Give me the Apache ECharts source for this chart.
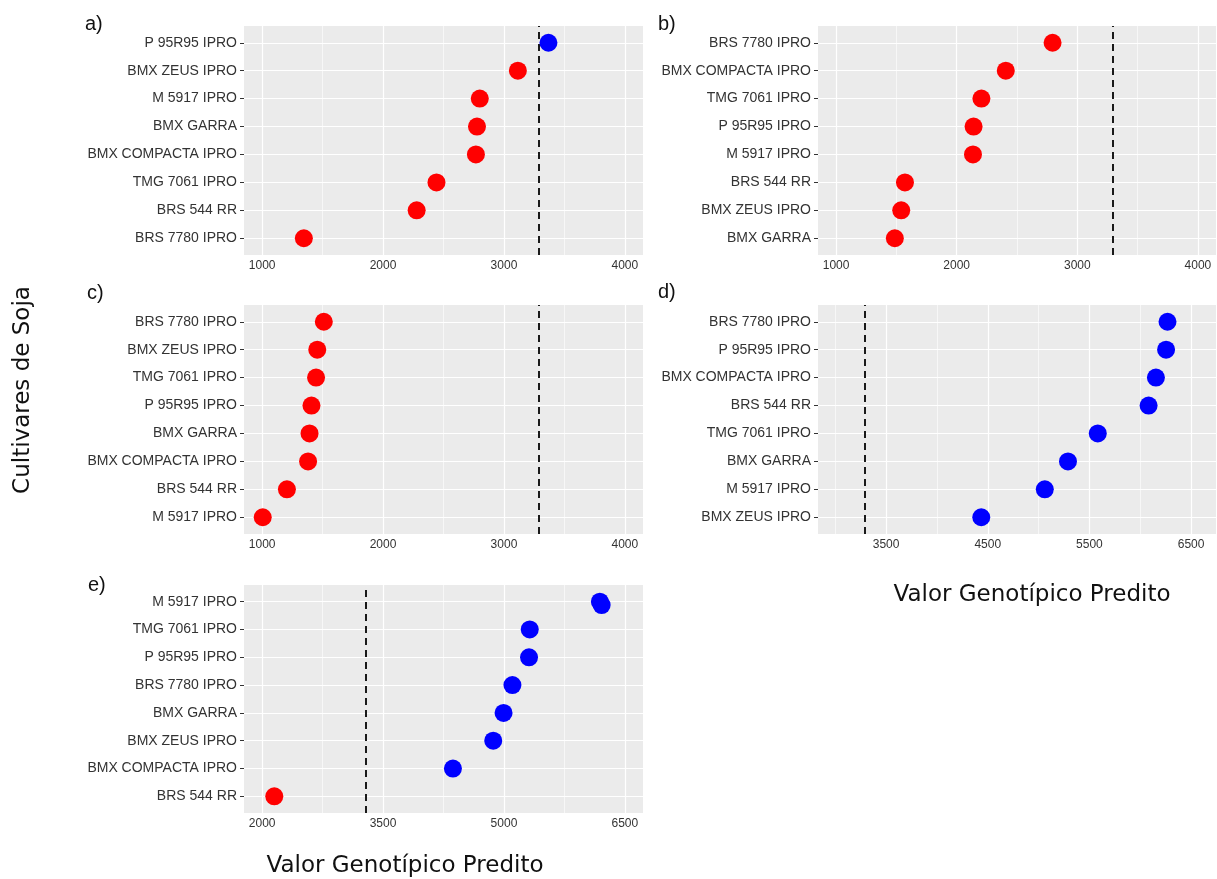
<!DOCTYPE html>
<html>
<head>
<meta charset="utf-8">
<script src="https://cdn.jsdelivr.net/npm/echarts@6/dist/echarts.min.js"></script>
<style>
  html, body { margin: 0; background: #fff; }
  #chart { width: 1217px; height: 879px; }
</style>
</head>
<body>
<div id="chart"></div>
<script>
// linha tracejada: media geral
var meanValue = 3290;

// categorias de baixo para cima, valores na mesma ordem
var catsA = ['BRS 7780 IPRO', 'BRS 544 RR', 'TMG 7061 IPRO', 'BMX COMPACTA IPRO', 'BMX GARRA', 'M 5917 IPRO', 'BMX ZEUS IPRO', 'P 95R95 IPRO'];
var valsA = [1345, 2278, 2442, 2768, 2777, 2800, 3115, 3368];

var catsB = ['BMX GARRA', 'BMX ZEUS IPRO', 'BRS 544 RR', 'M 5917 IPRO', 'P 95R95 IPRO', 'TMG 7061 IPRO', 'BMX COMPACTA IPRO', 'BRS 7780 IPRO'];
var valsB = [1487, 1540, 1571, 2135, 2140, 2205, 2407, 2795];

var catsC = ['M 5917 IPRO', 'BRS 544 RR', 'BMX COMPACTA IPRO', 'BMX GARRA', 'P 95R95 IPRO', 'TMG 7061 IPRO', 'BMX ZEUS IPRO', 'BRS 7780 IPRO'];
var valsC = [1005, 1205, 1380, 1392, 1408, 1446, 1456, 1510];

var catsD = ['BMX ZEUS IPRO', 'M 5917 IPRO', 'BMX GARRA', 'TMG 7061 IPRO', 'BRS 544 RR', 'BMX COMPACTA IPRO', 'P 95R95 IPRO', 'BRS 7780 IPRO'];
var valsD = [4436, 5061, 5289, 5582, 6082, 6154, 6254, 6268];

var catsE = ['BRS 544 RR', 'BMX COMPACTA IPRO', 'BMX ZEUS IPRO', 'BMX GARRA', 'BRS 7780 IPRO', 'P 95R95 IPRO', 'TMG 7061 IPRO', 'M 5917 IPRO'];
var valsE = [2151, 4367, 4867, 4995, 5105, 5311, 5320, 6190];
// ponto repetido do M 5917 IPRO no painel e)
var dupE = { name: 'M 5917 IPRO', value: 6212 };

// eixos x
var ticksABC = [1000, 2000, 3000, 4000], minorABC = [1500, 2500, 3500], rangeABC = [850, 4150];
var ticksD = [3500, 4500, 5500, 6500], minorD = [3000, 4000, 5000, 6000], rangeD = [2830, 6745];
var ticksE = [2000, 3500, 5000, 6500], minorE = [2750, 4250, 5750], rangeE = [1775, 6725];

var chart = echarts.init(document.getElementById('chart'));

var panels = [
  {tag: 'a)', cats: catsA, vals: valsA, ticks: ticksABC, minor: minorABC, range: rangeABC, box: [244, 26, 399, 229], tagAt: [85, 14]},
  {tag: 'b)', cats: catsB, vals: valsB, ticks: ticksABC, minor: minorABC, range: rangeABC, box: [818, 26, 398, 229], tagAt: [658, 14]},
  {tag: 'c)', cats: catsC, vals: valsC, ticks: ticksABC, minor: minorABC, range: rangeABC, box: [244, 305, 399, 229], tagAt: [87, 283]},
  {tag: 'd)', cats: catsD, vals: valsD, ticks: ticksD, minor: minorD, range: rangeD, box: [818, 305, 398, 229], tagAt: [658, 282]},
  {tag: 'e)', cats: catsE, vals: valsE, ticks: ticksE, minor: minorE, range: rangeE, box: [244, 585, 399, 228], tagAt: [88, 575]}
];

var labelFont = {color: '#333', fontFamily: 'Liberation Sans, Arial, sans-serif'};
var option = {animation: false, grid: [], xAxis: [], yAxis: [], series: [], graphic: []};

panels.forEach(function(p, k) {
  var idx = p.cats.map(function(c, i) { return i; });

  option.grid.push({
    left: p.box[0], top: p.box[1], width: p.box[2], height: p.box[3],
    show: true, backgroundColor: '#EBEBEB', borderWidth: 0
  });

  option.xAxis.push({
    gridIndex: k, type: 'value', min: p.range[0], max: p.range[1],
    axisLine: {show: false}, splitLine: {show: false},
    axisTick: {customValues: p.ticks, length: 4, lineStyle: {color: '#333'}},
    axisLabel: Object.assign({
      customValues: p.ticks, margin: 5, fontSize: 12,
      formatter: function(v) { return String(v); }
    }, labelFont)
  });

  option.yAxis.push({
    gridIndex: k, type: 'value', min: -0.6, max: p.cats.length - 0.4,
    axisLine: {show: false}, splitLine: {show: false},
    axisTick: {customValues: idx, length: 4, lineStyle: {color: '#333'}},
    axisLabel: Object.assign({
      customValues: idx, margin: 7, fontSize: 14,
      formatter: function(v) { return p.cats[Math.round(v)]; }
    }, labelFont)
  });

  // linhas de grade
  var gridLines = [];
  p.minor.forEach(function(v) { gridLines.push({xAxis: v, lineStyle: {width: 0.6}}); });
  p.ticks.forEach(function(v) { gridLines.push({xAxis: v, lineStyle: {width: 1.2}}); });
  idx.forEach(function(i) { gridLines.push({yAxis: i, lineStyle: {width: 1.2}}); });

  option.series.push({
    type: 'scatter', xAxisIndex: k, yAxisIndex: k, data: [], z: 1, silent: true,
    markLine: {
      z: 1, silent: true, symbol: 'none', label: {show: false}, animation: false,
      lineStyle: {color: '#ffffff', type: 'solid'},
      emphasis: {disabled: true},
      data: gridLines
    }
  });

  option.series.push({
    type: 'scatter', xAxisIndex: k, yAxisIndex: k, data: [], z: 2, silent: true,
    markLine: {
      z: 2, silent: true, symbol: 'none', label: {show: false}, animation: false,
      lineStyle: {color: '#1a1a1a', width: 2, type: [7, 5]},
      emphasis: {disabled: true},
      data: [{xAxis: meanValue}]
    }
  });

  var pts = p.vals.map(function(v, i) {
    return {value: [v, i], itemStyle: {color: v > meanValue ? '#0000FF' : '#FF0000'}};
  });
  if (p.tag === 'e)') {
    var j = p.cats.indexOf(dupE.name);
    pts.push({value: [dupE.value, j - 0.12], itemStyle: {color: dupE.value > meanValue ? '#0000FF' : '#FF0000'}});
  }

  option.series.push({
    type: 'scatter', xAxisIndex: k, yAxisIndex: k, z: 3,
    symbolSize: 18, itemStyle: {opacity: 1}, data: pts, emphasis: {disabled: true}
  });

  option.graphic.push({
    type: 'text', x: p.tagAt[0], y: p.tagAt[1],
    style: {text: p.tag, fontSize: 20, fontFamily: 'Liberation Sans, Arial, sans-serif', fill: '#111'}
  });
});

var titleStyle = {fontSize: 23, fontFamily: 'DejaVu Sans, sans-serif', fill: '#111', align: 'center', verticalAlign: 'middle'};
option.graphic.push({type: 'text', x: 1032, y: 595, style: Object.assign({text: 'Valor Genotípico Predito'}, titleStyle)});
option.graphic.push({type: 'text', x: 405, y: 866, style: Object.assign({text: 'Valor Genotípico Predito'}, titleStyle)});
option.graphic.push({type: 'text', x: 23, y: 390, rotation: Math.PI / 2, style: Object.assign({text: 'Cultivares de Soja'}, titleStyle)});

chart.setOption(option);
</script>
</body>
</html>
